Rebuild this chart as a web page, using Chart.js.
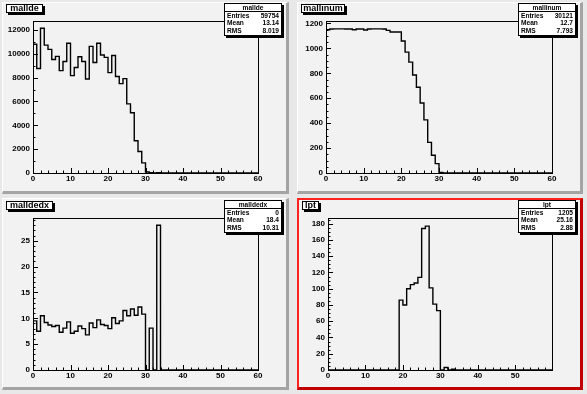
<!DOCTYPE html>
<html>
<head>
<meta charset="utf-8">
<script src="https://cdn.jsdelivr.net/npm/chart.js@4/dist/chart.umd.min.js"></script>
<style>
  body { margin: 0; width: 587px; height: 394px; position: relative; overflow: hidden;
         background: #e8e8e8; font-family: "Liberation Sans", Arial, sans-serif; font-weight: bold; }
  .pad { position: absolute; box-sizing: border-box; background: #f2f2f2;
         border-top: 1px solid #fff; border-left: 1px solid #fff;
         border-right: 3px solid #a4a4a4; border-bottom: 3px solid #a4a4a4; }
  .pad.sel { border-top: 2px solid #ff2020; border-left: 2px solid #ff2020;
             border-right: 3px solid #c00000; border-bottom: 3px solid #c00000; }
  canvas { position: absolute; }
  .title { position: absolute; box-sizing: border-box; background: #fff; border: 1px solid #000;
           box-shadow: 2px 2px 0 #000; font-size: 9px; line-height: 7px; text-align: center; }
  .stats { position: absolute; box-sizing: border-box; background: #fff; border: 1px solid #000;
           box-shadow: 2px 2px 0 #000; font-size: 6.6px; }
  .stats .sh { height: 7px; line-height: 7px; text-align: center; border-bottom: 1px solid #000; }
  .stats .row { display: flex; justify-content: space-between; height: 7.4px; line-height: 7.4px; padding: 0 2px; }
</style>
</head>
<body>
<div class="pad" style="left:2px;top:2px;width:287px;height:192px"></div>
<div class="pad" style="left:297px;top:2px;width:286px;height:192px"></div>
<div class="pad" style="left:2px;top:198px;width:287px;height:192px"></div>
<div class="pad sel" style="left:297px;top:198px;width:286px;height:192px"></div>

<canvas id="c1" width="287" height="192" style="left:2px;top:2px"></canvas>
<canvas id="c2" width="286" height="192" style="left:297px;top:2px"></canvas>
<canvas id="c3" width="287" height="192" style="left:2px;top:198px"></canvas>
<canvas id="c4" width="286" height="192" style="left:297px;top:198px"></canvas>

<script>
// bin contents, 1 unit wide bins starting at 0
const mallde = [7100, 10800, 8760, 12140, 10730, 10370, 9520, 9780, 8590, 9350,
                10880, 8170, 8850, 9750, 9350, 7890, 10620, 9270, 10880, 9900,
                9700, 8420, 9860, 8090, 7500, 7920, 5800, 5050, 2700, 1800,
                850, 80, 30, 0, 20, 0, 0, 0, 0, 0,
                0, 0, 0, 0, 0, 0, 0, 0, 0, 0,
                0, 0, 0, 0, 0, 0, 0, 0, 0, 0];
const mallinum = [1128, 1150, 1156, 1157, 1157, 1157, 1156, 1156, 1150, 1156,
                  1156, 1148, 1156, 1157, 1157, 1157, 1156, 1145, 1132, 1132,
                  1132, 1060, 970, 890, 786, 688, 562, 426, 246, 142,
                  75, 5, 0, 0, 0, 0, 0, 0, 0, 0,
                  0, 0, 0, 0, 0, 0, 0, 0, 0, 0,
                  0, 0, 0, 0, 0, 0, 0, 0, 0, 0];
const malldedx = [6.2, 9.5, 7.5, 10.5, 9.2, 8.7, 8.4, 8.6, 7.3, 8.1,
                  9.3, 7.1, 7.5, 8.5, 8.0, 6.8, 9.1, 8.2, 9.7, 8.8,
                  8.6, 8.0, 10.1, 9.0, 9.5, 11.5, 10.5, 11.8, 10.6, 12.2,
                  10.8, 0, 8.1, 0, 28, 0, 0, 0, 0, 0,
                  0, 0, 0, 0, 0, 0, 0, 0, 0, 0,
                  0, 0, 0, 0, 0, 0, 0, 0, 0, 0];
const lpt = [0, 0, 0, 0, 0, 0, 0, 0, 0, 0,
             0, 0, 0, 0, 0, 0, 0, 0, 0, 0,
             86, 80, 100, 105, 107, 114, 174, 177, 101, 81,
             73, 0, 3, 0, 1, 0, 0, 0, 0, 0,
             0, 0, 0, 0, 0, 0, 0, 0, 0, 0,
             0, 0, 0, 0, 0, 0, 0, 0, 0, 0];

// axis tick labels
const xTicks = [0, 10, 20, 30, 40, 50, 60];
const lptXTicks = [0, 10, 20, 30, 40, 50];
const malldeYTicks = [0, 2000, 4000, 6000, 8000, 10000, 12000];
const mallinumYTicks = [0, 200, 400, 600, 800, 1000, 1200];
const malldedxYTicks = [0, 5, 10, 15, 20, 25];
const lptYTicks = [0, 20, 40, 60, 80, 100, 120, 140, 160, 180];

// stats boxes
const statNames = ['Entries', 'Mean', 'RMS'];
const malldeStats = ['59754', '13.14', '8.019'];
const mallinumStats = ['30121', '12.7', '7.793'];
const malldedxStats = ['0', '18.4', '10.31'];
const lptStats = ['1205', '25.16', '2.88'];

const tickFont = { family: '"Liberation Sans", Arial, sans-serif', size: 8, weight: 'bold' };

// ROOT style frame with inward ticks on the bottom and left axes
const rootFrame = {
  id: 'rootFrame',
  beforeDatasetsDraw(chart, args, o) {
    const { ctx, chartArea: a, scales: { x, y } } = chart;
    ctx.save();
    ctx.strokeStyle = '#000';
    ctx.lineWidth = 1;
    ctx.strokeRect(Math.round(a.left) + 0.5, Math.round(a.top) + 0.5,
                   Math.round(a.right - a.left), Math.round(a.bottom - a.top));
    ctx.beginPath();
    for (let v = x.min; v <= x.max + 1e-6; v += o.xMinor) {
      const px = Math.round(x.getPixelForValue(v)) + 0.5;
      const len = Math.abs(v / o.xMajor - Math.round(v / o.xMajor)) < 1e-6 ? 5 : 2.5;
      ctx.moveTo(px, a.bottom);
      ctx.lineTo(px, a.bottom - len);
    }
    for (let v = y.min; v <= y.max + 1e-6; v += o.yMinor) {
      const py = Math.round(y.getPixelForValue(v)) + 0.5;
      const len = Math.abs(v / o.yMajor - Math.round(v / o.yMajor)) < 1e-6 ? 5 : 2.5;
      ctx.moveTo(a.left, py);
      ctx.lineTo(a.left + len, py);
    }
    ctx.stroke();
    ctx.restore();
  }
};

function steps(counts) {
  const pts = counts.map((c, i) => ({ x: i, y: c }));
  pts.push({ x: counts.length, y: counts[counts.length - 1] });
  return pts;
}

function makeHist(id, counts, cfg) {
  return new Chart(document.getElementById(id), {
    type: 'line',
    data: {
      datasets: [{
        data: steps(counts),
        stepped: 'after',
        borderColor: '#000',
        borderWidth: 1.4,
        pointRadius: 0,
        fill: false
      }]
    },
    options: {
      responsive: false,
      animation: false,
      devicePixelRatio: 1,
      layout: { padding: { top: cfg.top, right: cfg.right, left: 0, bottom: 0 } },
      plugins: {
        legend: { display: false },
        tooltip: { enabled: false },
        rootFrame: { xMajor: 10, xMinor: 2, yMajor: cfg.yTicks[1], yMinor: cfg.yMinor }
      },
      scales: {
        x: {
          type: 'linear', min: 0, max: cfg.xMax,
          grid: { display: false, drawTicks: false }, border: { display: false },
          afterBuildTicks: s => { s.ticks = cfg.xTicks.map(v => ({ value: v })); },
          afterFit: s => { s.height = cfg.xH; },
          ticks: { font: tickFont, color: '#000', padding: 1, autoSkip: false, maxRotation: 0,
                   callback: v => String(v) }
        },
        y: {
          type: 'linear', min: 0, max: cfg.yMax,
          grid: { display: false, drawTicks: false }, border: { display: false },
          afterBuildTicks: s => { s.ticks = cfg.yTicks.map(v => ({ value: v })); },
          afterFit: s => { s.width = cfg.yW; },
          ticks: { font: tickFont, color: '#000', padding: 3, autoSkip: false,
                   callback: v => String(v) }
        }
      }
    },
    plugins: [rootFrame]
  });
}

function addBoxes(name, stats, title, box) {
  const t = document.createElement('div');
  t.className = 'title';
  Object.assign(t.style, { left: title[0] + 'px', top: title[1] + 'px', width: title[2] + 'px', height: title[3] + 'px' });
  t.textContent = name;
  document.body.appendChild(t);

  const s = document.createElement('div');
  s.className = 'stats';
  Object.assign(s.style, { left: box[0] + 'px', top: box[1] + 'px', width: box[2] + 'px', height: box[3] + 'px' });
  let html = '<div class="sh">' + name + '</div>';
  statNames.forEach((n, i) => {
    html += '<div class="row"><span>' + n + '</span><span>' + stats[i] + '</span></div>';
  });
  s.innerHTML = html;
  document.body.appendChild(s);
}

makeHist('c1', mallde, { top: 19, right: 31, yW: 31, xH: 21, xMax: 60, yMax: 12750,
                         xTicks: xTicks, yTicks: malldeYTicks, yMinor: 1000 });
makeHist('c2', mallinum, { top: 19, right: 31, yW: 29, xH: 21, xMax: 60, yMax: 1220,
                           xTicks: xTicks, yTicks: mallinumYTicks, yMinor: 50 });
makeHist('c3', malldedx, { top: 20, right: 31, yW: 31, xH: 20, xMax: 60, yMax: 29.4,
                           xTicks: xTicks, yTicks: malldedxYTicks, yMinor: 1 });
makeHist('c4', lpt, { top: 20, right: 31, yW: 31, xH: 20, xMax: 59.8, yMax: 187,
                      xTicks: lptXTicks, yTicks: lptYTicks, yMinor: 5 });

addBoxes('mallde', malldeStats, [6, 4, 37, 9], [224, 3, 58, 33]);
addBoxes('mallinum', mallinumStats, [301, 4, 44, 9], [518, 3, 58, 33]);
addBoxes('malldedx', malldedxStats, [6, 201, 47, 9], [224, 200, 58, 33]);
addBoxes('lpt', lptStats, [302, 201, 17, 9], [518, 200, 58, 33]);
</script>
</body>
</html>
